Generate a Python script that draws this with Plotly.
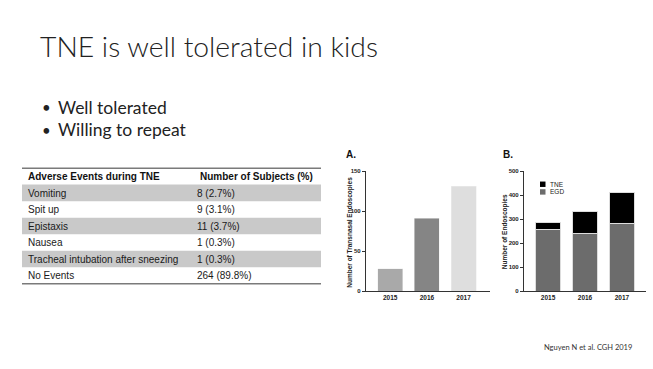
import plotly.graph_objects as go

W, H = 653, 369

# ---- data ----
title_text = "TNE is well tolerated in kids"
bullets = ["Well tolerated", "Willing to repeat"]
citation = "Nguyen N et al. CGH 2019"

table_header = ["Adverse Events during TNE", "Number of Subjects (%)"]
events = ["Vomiting", "Spit up", "Epistaxis", "Nausea",
          "Tracheal intubation after sneezing", "No Events"]
subjects = ["8 (2.7%)", "9 (3.1%)", "11 (3.7%)", "1 (0.3%)", "1 (0.3%)", "264 (89.8%)"]

years = ["2015", "2016", "2017"]
tne_counts = [28, 91, 131]
egd_counts = [258, 242, 281]

a_ticks = [0, 50, 100, 150]
b_ticks = [0, 100, 200, 300, 400, 500]


def px(x):
    return x / W


def py(y):
    return 1 - y / H


fig = go.Figure()

# ---- chart A ----
fig.add_trace(go.Bar(
    x=years, y=tne_counts, width=0.68, showlegend=False,
    marker=dict(color=["#a9a9a9", "#858585", "#dedede"], line=dict(color="#eeeeee", width=0.5)),
    xaxis="x", yaxis="y"))

# ---- chart B ----
fig.add_trace(go.Bar(
    x=years, y=egd_counts, width=0.68, name="EGD", showlegend=False,
    marker=dict(color="#6c6c6c", line=dict(color="#dddddd", width=1)),
    xaxis="x2", yaxis="y2"))
fig.add_trace(go.Bar(
    x=years, y=tne_counts, width=0.68, name="TNE", showlegend=False,
    marker=dict(color="#000000", line=dict(color="#dddddd", width=1)),
    xaxis="x2", yaxis="y2"))

axfont = dict(family="Liberation Sans, Arial", size=6, color="#222", weight="bold")
common_y = dict(showgrid=False, zeroline=False, showline=True, linecolor="#333", linewidth=1.3,
                ticks="outside", ticklen=3, tickwidth=1, tickcolor="#333", tickfont=axfont)
common_x = dict(showgrid=False, zeroline=False, showline=True, linecolor="#333", linewidth=1.3,
                ticks="", tickfont=dict(family="Liberation Sans, Arial", size=6.5, color="#222", weight="bold"),
                type="category")

fig.update_layout(
    width=W, height=H, margin=dict(l=0, r=0, t=0, b=0),
    paper_bgcolor="white", plot_bgcolor="white",
    barmode="stack", showlegend=False,
    xaxis=dict(domain=[px(366), px(490)], range=[-0.66, 2.72], anchor="y", **common_x),
    yaxis=dict(domain=[py(293), py(171)], range=[0, 150], tickvals=a_ticks, anchor="x", **common_y),
    xaxis2=dict(domain=[px(524), px(646)], range=[-0.65, 2.65], anchor="y2", **common_x),
    yaxis2=dict(domain=[py(293), py(171)], range=[0, 500], tickvals=b_ticks, anchor="x2", **common_y),
)

P = dict(xref="paper", yref="paper", showarrow=False)
ann = []
ann.append(dict(x=px(38), y=py(43.5), text=title_text, xanchor="left", yanchor="middle",
                font=dict(family="Lato", size=28.3, color="#222", weight=300), **P))
for i, b in enumerate(bullets):
    yy = 106 + i * 23
    ann.append(dict(x=px(40), y=py(yy), text="\u2022", xanchor="left", yanchor="middle",
                    font=dict(family="Lato", size=15, color="#222"), **P))
    ann.append(dict(x=px(56), y=py(yy), text=b, xanchor="left", yanchor="middle",
                    font=dict(family="Lato", size=17.5, color="#222"), **P))
ann.append(dict(x=px(542), y=py(350), text=citation, xanchor="left", yanchor="middle",
                font=dict(family="Lato", size=7.5, color="#333"), **P))
ann.append(dict(x=px(344), y=py(153.5), text="A.", xanchor="left", yanchor="middle",
                font=dict(family="Liberation Sans, Arial", size=10, color="#111", weight="bold"), **P))
ann.append(dict(x=px(501), y=py(154), text="B.", xanchor="left", yanchor="middle",
                font=dict(family="Liberation Sans, Arial", size=10, color="#111", weight="bold"), **P))
ann.append(dict(x=px(350.5), y=py(233), text="Number of Transnasal Endoscopies", textangle=-90,
                xanchor="center", yanchor="middle",
                font=dict(family="Liberation Sans, Arial", size=6.5, color="#222", weight="bold"), **P))
ann.append(dict(x=px(505), y=py(233), text="Number of Endoscopies", textangle=-90,
                xanchor="center", yanchor="middle",
                font=dict(family="Liberation Sans, Arial", size=6.5, color="#222", weight="bold"), **P))
# legend for chart B
for lbl, yc in [("TNE", 184), ("EGD", 191.8)]:
    ann.append(dict(x=px(547.5), y=py(yc), text=lbl, xanchor="left", yanchor="middle",
                    font=dict(family="Liberation Sans, Arial", size=6.5, color="#222"), **P))

# ---- table (header + rows from the lists) ----
tbl_left, tbl_right, col2_x = 22, 321, 195
tbl_top, header_h, row_h = 168, 16.6, 16.8
tfont = dict(family="Liberation Sans, Arial", size=10, color="#1a1a1a")
hfont = dict(family="Liberation Sans, Arial", size=10, color="#111", weight="bold")
hc = tbl_top + header_h / 2 + 0.5
ann.append(dict(x=px(tbl_left + 3.5), y=py(hc), text=table_header[0], xanchor="left", yanchor="middle", font=hfont, **P))
ann.append(dict(x=px(col2_x + 3), y=py(hc), text=table_header[1], xanchor="left", yanchor="middle", font=hfont, **P))

shapes = []
for i, (ev, sb) in enumerate(zip(events, subjects)):
    top = tbl_top + header_h + i * row_h
    if i % 2 == 0:
        shapes.append(dict(type="rect", xref="paper", yref="paper", x0=px(tbl_left), x1=px(tbl_right),
                           y0=py(top + row_h), y1=py(top), fillcolor="#c9c9c9", line=dict(width=0), layer="below"))
    cy = top + row_h / 2 + 0.5
    ann.append(dict(x=px(tbl_left + 3.5), y=py(cy), text=ev, xanchor="left", yanchor="middle", font=tfont, **P))
    ann.append(dict(x=px(col2_x), y=py(cy), text=sb, xanchor="left", yanchor="middle", font=tfont, **P))
tbl_bottom = tbl_top + header_h + len(events) * row_h
shapes += [
    dict(type="line", xref="paper", yref="paper", x0=px(tbl_left), x1=px(tbl_right), y0=py(tbl_top), y1=py(tbl_top),
         line=dict(color="#7a7a7a", width=1.3)),
    dict(type="line", xref="paper", yref="paper", x0=px(tbl_left), x1=px(tbl_right), y0=py(tbl_bottom), y1=py(tbl_bottom),
         line=dict(color="#7a7a7a", width=1.3)),
    dict(type="rect", xref="paper", yref="paper", x0=px(540), x1=px(545.5), y0=py(181.5), y1=py(187),
         fillcolor="#000000", line=dict(width=0)),
    dict(type="rect", xref="paper", yref="paper", x0=px(540), x1=px(545.5), y0=py(189.3), y1=py(194.8),
         fillcolor="#6c6c6c", line=dict(width=0)),
]
fig.update_layout(annotations=ann, shapes=shapes)

fig.write_html("out.html", config={"displayModeBar": False},
               post_script="document.body.style.margin='0';")
